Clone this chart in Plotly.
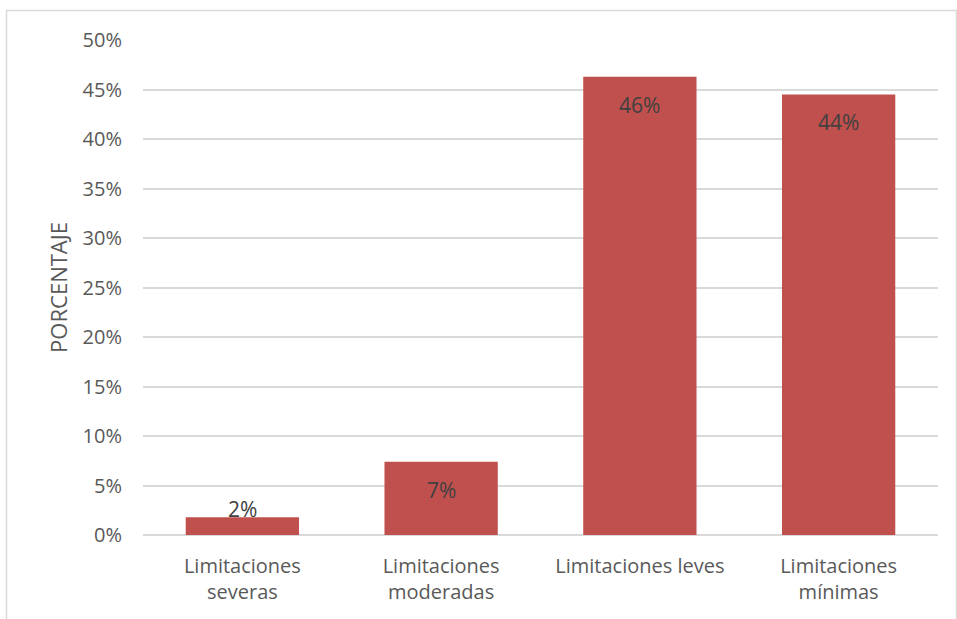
import plotly.graph_objects as go

categories = ["Limitaciones<br>severas", "Limitaciones<br>moderadas", "Limitaciones leves", "Limitaciones<br>mínimas"]
values = [1.8, 7.4, 46.3, 44.5]
labels = ["2%", "7%", "46%", "44%"]
y_ticks = [0, 5, 10, 15, 20, 25, 30, 35, 40, 45, 50]
y_ticktext = [f"{v}%" for v in y_ticks]

FONT = "Open Sans"
FS = 20
bar_color = "#C0504D"

fig = go.Figure()
fig.add_trace(go.Bar(
    x=categories, y=values, marker=dict(color=bar_color, line=dict(width=0)),
    hoverinfo="skip",
))

annotations = []
for c, v, t in zip(categories, values, labels):
    if v < 4:
        annotations.append(dict(x=c, y=v, xref="x", yref="y", text=t, showarrow=False,
                                yanchor="bottom", yshift=-8,
                                font=dict(family=FONT, size=21, color="#404040")))
    else:
        annotations.append(dict(x=c, y=v, xref="x", yref="y", text=t, showarrow=False,
                                yanchor="middle", yshift=-28,
                                font=dict(family=FONT, size=21, color="#404040")))

fig.update_layout(
    width=957, height=619,
    margin=dict(l=143, r=19, t=40, b=84),
    paper_bgcolor="white", plot_bgcolor="white",
    bargap=0.43,
    showlegend=False,
    annotations=annotations,
    font=dict(family=FONT, size=FS, color="#595959"),
    xaxis=dict(showgrid=False, showline=False, ticks="", tickfont=dict(size=FS, color="#595959"),
               ticklabelstandoff=17, fixedrange=True),
    yaxis=dict(range=[0, 50], tickvals=y_ticks, ticktext=y_ticktext, showgrid=True,
               gridcolor="#D9D9D9", gridwidth=1.5, zeroline=True, zerolinecolor="#D9D9D9",
               zerolinewidth=1.5, ticks="", ticklen=0, tickfont=dict(size=FS, color="#595959"),
               ticklabelstandoff=20,
               title=dict(text="PORCENTAJE", font=dict(size=22, color="#595959"), standoff=8)),
    shapes=[dict(type="rect", xref="paper", yref="paper",
                 x0=-(143 - 6.5) / 795, x1=(956.5 - 143) / 795,
                 y0=-(619 - 535 + 5) / 495, y1=(535 - 10.5) / 495,
                 line=dict(color="#D9D9D9", width=1.5), layer="below")],
)

fig.write_html("out.html")
